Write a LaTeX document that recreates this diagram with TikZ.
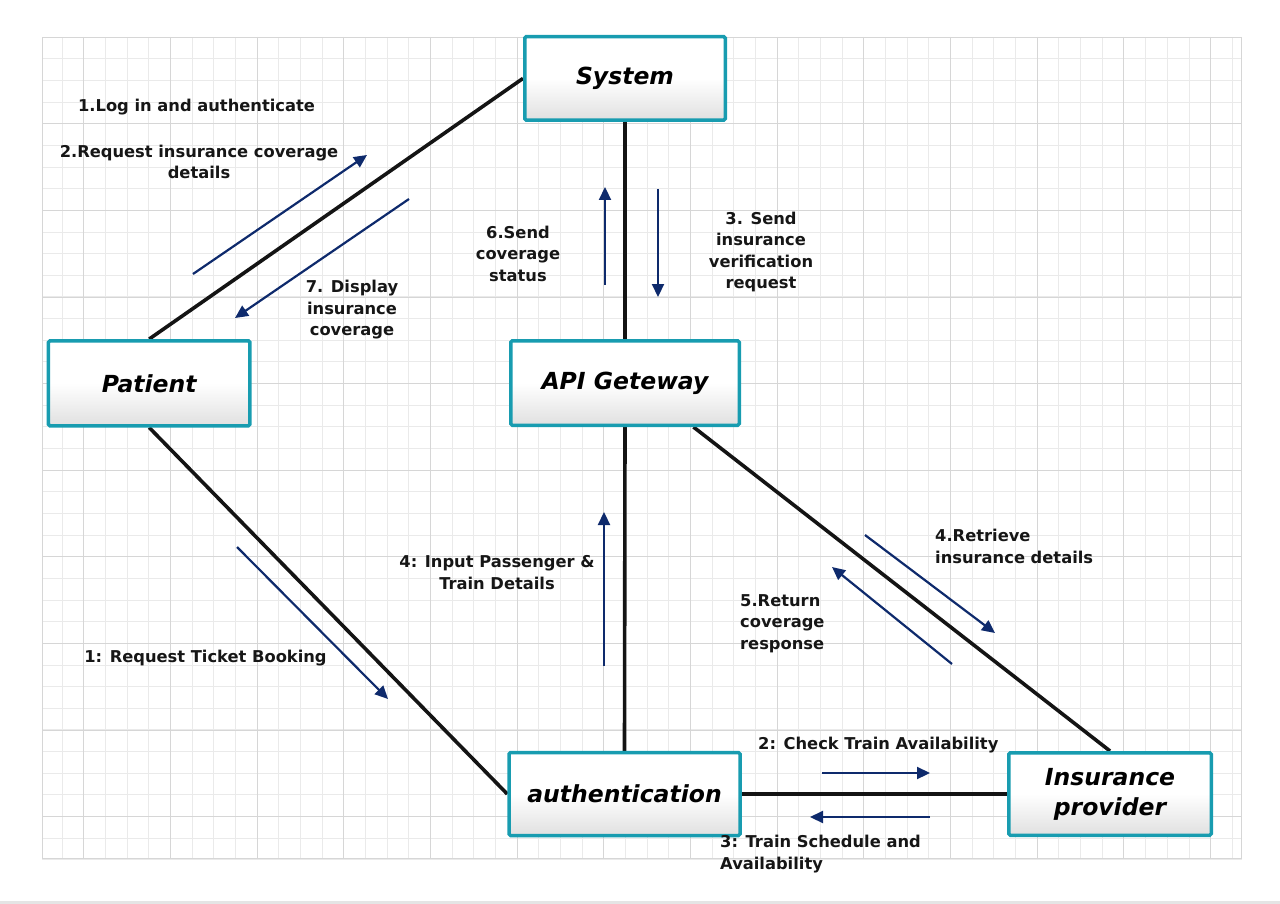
\documentclass[tikz,border=0pt]{standalone}
\usepackage{fontspec}
\setmainfont{DejaVu Sans}
\usetikzlibrary{arrows.meta,calc}
\definecolor{teal1}{RGB}{24,156,176}
\definecolor{navy1}{RGB}{14,42,108}
\definecolor{gridminor}{RGB}{234,234,234}
\definecolor{gridmajor}{RGB}{214,214,214}
\definecolor{txt}{RGB}{22,22,22}
\definecolor{boxbottom}{RGB}{224,224,224}
\pgfdeclarelayer{bg}
\pgfdeclarelayer{conn}
\pgfsetlayers{bg,conn,main}
\begin{document}
\begin{tikzpicture}[x=1pt,y=-1pt,
  box/.style={draw=teal1, line width=3.5pt, rounded corners=1.5pt, top color=white, bottom color=boxbottom, middle color=white, inner sep=0pt, font=\fontsize{23.5}{30}\selectfont\bfseries\itshape, align=center},
  link/.style={line width=3.6pt, black!92},
  msg/.style={navy1, line width=2.2pt, -{Triangle[length=13pt,width=12pt]}},
  lbl/.style={font=\fontsize{16.3}{21.5}\selectfont\bfseries, text=txt, inner sep=0pt, align=center},
  lbll/.style={lbl, align=left},
  gmin/.style={gridminor, line width=1pt},
  gmaj/.style={gridmajor, line width=1pt},
]
\useasboundingbox (0,0) rectangle (1280,904);
\begin{pgfonlayer}{bg}
\begin{scope}
\clip (42,37) rectangle (1242,859);
\foreach \k in {0,...,56} {
  \pgfmathsetmacro{\xx}{round(40+21.67*\k)+0.5}
  \draw[gmin] (\xx,37) -- (\xx,859);
}
\foreach \k in {0,...,38} {
  \pgfmathsetmacro{\yy}{round(36.7+21.65*\k)+0.5}
  \draw[gmin] (42,\yy) -- (1242,\yy);
}
\foreach \k in {0,...,14} {
  \pgfmathsetmacro{\xx}{round(83.34+86.68*\k)+0.5}
  \draw[gmaj] (\xx,37) -- (\xx,859);
}
\foreach \k in {0,...,9} {
  \pgfmathsetmacro{\yy}{round(36.7+86.6*\k)+0.5}
  \draw[gmaj] (42,\yy) -- (1242,\yy);
}
\end{scope}
\draw[gmaj] (42.5,37.5) rectangle (1241.5,858.5);
\fill[gray!20] (0,901) rectangle (1280,904);
\end{pgfonlayer}

% boxes
\node[box, minimum width=201.5pt, minimum height=85pt] (patient) at (149.2,383.3) {Patient};
\node[box, minimum width=200.5pt, minimum height=83.5pt] (system) at (625,78.4) {System};
\node[box, minimum width=228.5pt, minimum height=84.5pt] (api) at (625,383) {API Geteway};
\node[box, minimum width=231pt, minimum height=83pt] (auth) at (624.5,794) {authentication};
\node[box, minimum width=202.5pt, minimum height=82.5pt] (ins) at (1110,794) {Insurance\\provider};

% connectors
\begin{pgfonlayer}{conn}
\draw[link] (patient.north) -- (system.west);
\draw[link] (patient.south) -- (auth.west);
\draw[link] (system.south) -- (api.north);
\draw[link] (api.south) -- (auth.north);
\draw[link] ($(api.south)!0.59!(api.south east)$) -- (ins.north);
\draw[link] (auth.east) -- (ins.west);
\end{pgfonlayer}

% message arrow end points
\coordinate (m2a) at (193,274);   \coordinate (m2b) at (367,155);
\coordinate (m7a) at (409,199);   \coordinate (m7b) at (235,318);
\coordinate (m6a) at (605,285);   \coordinate (m6b) at (605,187);
\coordinate (m3a) at (658,189);   \coordinate (m3b) at (658,297);
\coordinate (m1a) at (237,547);   \coordinate (m1b) at (388,699);
\coordinate (m4a) at (604,666);   \coordinate (m4b) at (604,512);
\coordinate (r4a) at (865,535);   \coordinate (r4b) at (995,633);
\coordinate (r5a) at (952,664);   \coordinate (r5b) at (832,567);
\coordinate (c2a) at (822,773);   \coordinate (c2b) at (930,773);
\coordinate (t3a) at (930,817);   \coordinate (t3b) at (810,817);

\draw[msg] (m2a) -- (m2b);
\draw[msg] (m7a) -- (m7b);
\draw[msg] (m6a) -- (m6b);
\draw[msg] (m3a) -- (m3b);
\draw[msg] (m1a) -- (m1b);
\draw[msg] (m4a) -- (m4b);
\draw[msg] (r4a) -- (r4b);
\draw[msg] (r5a) -- (r5b);
\draw[msg] (c2a) -- (c2b);
\draw[msg] (t3a) -- (t3b);

% labels
\node[lbl] (L1) at (196.5,107) {1.Log in and authenticate};
\node[lbl] (L2) at (199,162) {2.Request insurance coverage\\details};
\node[lbl] (L7) at (352,310) {7. Display\\insurance\\coverage};
\node[lbl] (L6) at (518,253.5) {6.Send\\coverage\\status};
\node[lbl] (L3) at (761,252) {3. Send\\insurance\\verification\\request};
\node[lbl] (L4) at (497,572.5) {4: Input Passenger \&\\Train Details};
\node[lbll, anchor=west] (L4r) at (935,546.5) {4.Retrieve\\insurance details};
\node[lbll, anchor=west] (L5) at (740,623.5) {5.Return\\coverage\\response};
\node[lbl] (L1b) at (205.5,658) {1: Request Ticket Booking};
\node[lbl, anchor=west] (L2c) at (758,745) {2: Check Train Availability};
\node[lbll, anchor=west] (L3t) at (720,854) {3: Train Schedule and\\Availability};
\end{tikzpicture}
\end{document}
